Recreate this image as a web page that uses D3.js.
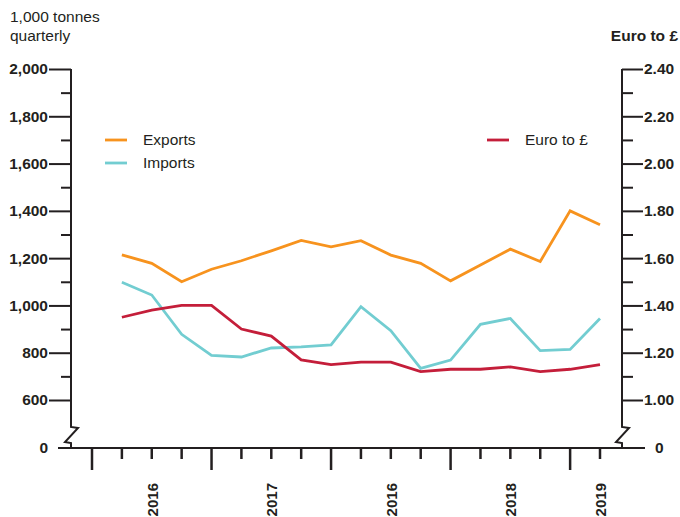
<!DOCTYPE html>
<html><head><meta charset="utf-8">
<script src="https://cdn.jsdelivr.net/npm/d3@7"></script>
<style>
body{margin:0;background:#fff;}
text{font-family:"Liberation Sans",Arial,Helvetica,sans-serif;fill:#231f20;}
</style></head>
<body><svg id="c" width="680" height="517"></svg>
<script>
const quarters = ["2015 Q2","2015 Q3","2015 Q4","2016 Q1","2016 Q2","2016 Q3","2016 Q4","2017 Q1","2017 Q2","2017 Q3","2017 Q4","2018 Q1","2018 Q2","2018 Q3","2018 Q4","2019 Q1","2019 Q2"];
const exportsT = [1214,1178,1100,1153,1189,1231,1275,1248,1274,1213,1178,1104,1171,1238,1186,1400,1341];
const importsT = [1098,1044,878,789,782,820,825,833,995,893,734,769,920,945,809,814,945];
const euroGbp = [1.35,1.38,1.40,1.40,1.30,1.27,1.17,1.15,1.16,1.16,1.12,1.13,1.13,1.14,1.12,1.13,1.15];
const leftTicks = [600,800,1000,1200,1400,1600,1800,2000];
const leftMinor = [700,900,1100,1300,1500,1700,1900];
const rightTicks = [1.0,1.2,1.4,1.6,1.8,2.0,2.2,2.4];
const rightMinor = [1.1,1.3,1.5,1.7,1.9,2.1,2.3];
const yearLabels = ["2016","2017","2016","2018","2019"];
const yearLabelSlots = [2,6,10,14,17];
const majorSlots = [0,4,8,12,16];

const svg = d3.select("#c");
const x = d3.scaleLinear().domain([0, quarters.length]).range([92, 600]);
const yL = d3.scaleLinear().domain([600, 2000]).range([400, 69]);
const yR = d3.scaleLinear().domain([1.0, 2.4]).range([400, 69]);
const axisL = 71, axisR = 622, base = 448;
const ink = "#231f20";
const FS = 15.5;

function styleAxis(g){
  g.selectAll(".domain").remove();
  g.selectAll("line").attr("stroke", ink).attr("stroke-width", 2);
  g.selectAll("text").attr("font-size", FS).attr("font-weight", "bold").attr("fill", ink).attr("font-family", "Liberation Sans, Arial, sans-serif");
}

// Left axis
const gL = svg.append("g").attr("transform", `translate(${axisL},0)`)
  .call(d3.axisLeft(yL).tickValues(leftTicks).tickSize(22).tickPadding(1).tickFormat(d3.format(",")));
const gLm = svg.append("g").attr("transform", `translate(${axisL},0)`)
  .call(d3.axisLeft(yL).tickValues(leftMinor).tickSize(10).tickFormat(""));
styleAxis(gL); styleAxis(gLm);

// Right axis
const gR = svg.append("g").attr("transform", `translate(${axisR},0)`)
  .call(d3.axisRight(yR).tickValues(rightTicks).tickSize(21).tickPadding(1).tickFormat(d3.format(".2f")));
const gRm = svg.append("g").attr("transform", `translate(${axisR},0)`)
  .call(d3.axisRight(yR).tickValues(rightMinor).tickSize(11).tickFormat(""));
styleAxis(gR); styleAxis(gRm);

// Axis verticals with breaks
function brk(ax){
  return `M${ax},${yL(2000)} V427 L${ax+7},428 L${ax-6},442 L${ax},443 V${base}`;
}
svg.append("path").attr("d", brk(axisL)).attr("fill","none").attr("stroke",ink).attr("stroke-width",2);
svg.append("path").attr("d", brk(axisR)).attr("fill","none").attr("stroke",ink).attr("stroke-width",2);

// zero labels
svg.append("text").attr("x", 48).attr("y", base).attr("dy","0.35em").attr("text-anchor","end").attr("font-size",FS).attr("font-weight","bold").text("0");
svg.append("text").attr("x", 655).attr("y", base).attr("dy","0.35em").attr("font-size",FS).attr("font-weight","bold").text("0");

// Bottom axis
svg.append("line").attr("x1",58).attr("x2",645).attr("y1",base).attr("y2",base).attr("stroke",ink).attr("stroke-width",2);
const slots = d3.range(0, quarters.length + 1);
svg.append("g").selectAll("line").data(slots).join("line")
  .attr("x1", d=>x(d)).attr("x2", d=>x(d))
  .attr("y1", base).attr("y2", d=> majorSlots.includes(d) ? base+22 : base+11)
  .attr("stroke", ink).attr("stroke-width", 2.5);
svg.append("g").selectAll("text").data(yearLabels).join("text")
  .attr("transform", (d,i)=>`translate(${x(yearLabelSlots[i])+6},483) rotate(-90)`)
  .attr("text-anchor","end").attr("font-size",15).attr("font-weight","bold").text(d=>d);

// Titles
svg.append("text").attr("x",10).attr("y",22).attr("font-size",FS).attr("fill","#333").text("1,000 tonnes");
svg.append("text").attr("x",10).attr("y",41).attr("font-size",FS).attr("fill","#333").text("quarterly");
svg.append("text").attr("x",678).attr("y",41).attr("text-anchor","end").attr("font-size",FS).attr("font-weight","bold").text("Euro to £");

// Lines
const colors = {exp:"#f7931e", imp:"#72cdd1", eur:"#c41e3a"};
const lineL = d3.line().x((d,i)=>x(i+1)).y(d=>yL(d));
const lineR = d3.line().x((d,i)=>x(i+1)).y(d=>yR(d));
svg.append("path").datum(importsT).attr("d", lineL).attr("fill","none").attr("stroke",colors.imp).attr("stroke-width",2.8);
svg.append("path").datum(euroGbp).attr("d", lineR).attr("fill","none").attr("stroke",colors.eur).attr("stroke-width",2.8);
svg.append("path").datum(exportsT).attr("d", lineL).attr("fill","none").attr("stroke",colors.exp).attr("stroke-width",2.8);

// Legend
const legend = [
  {name:"Exports", c:colors.exp, lx:105, ly:140},
  {name:"Imports", c:colors.imp, lx:105, ly:163},
  {name:"Euro to £", c:colors.eur, lx:487, ly:140}
];
const lg = svg.append("g").selectAll("g").data(legend).join("g");
lg.append("line").attr("x1",d=>d.lx).attr("x2",d=>d.lx+22).attr("y1",d=>d.ly).attr("y2",d=>d.ly).attr("stroke",d=>d.c).attr("stroke-width",2.8);
lg.append("text").attr("x",d=>d.lx+38).attr("y",d=>d.ly).attr("dy","0.35em").attr("font-size",FS).attr("fill","#333").text(d=>d.name);
</script></body></html>
